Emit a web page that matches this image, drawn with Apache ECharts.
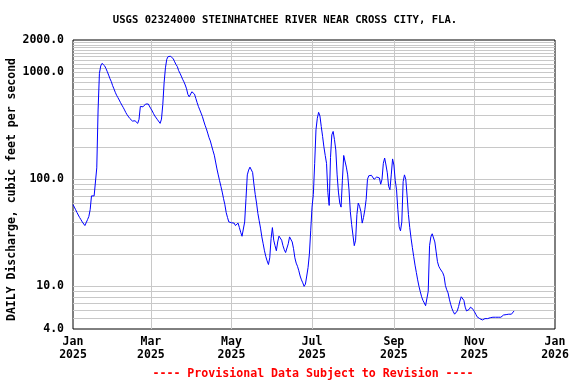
<!DOCTYPE html>
<html><head><meta charset="utf-8">
<script src="https://cdn.jsdelivr.net/npm/echarts@6/dist/echarts.min.js"></script>
<style>html,body{margin:0;padding:0;background:#fff}#c{width:576px;height:384px}</style>
</head><body><div id="c"></div>
<script>
const titleText = 'USGS 02324000 STEINHATCHEE RIVER NEAR CROSS CITY, FLA.';
const footerText = '---- Provisional Data Subject to Revision ----';
const yAxisName = 'DAILY Discharge, cubic feet per second';
const startDate = '2025-01-01';
// daily discharge, cfs, starting 2025-01-01
const flow = [
58,55,52,49,47,44,42,40,38.5,37,
35.5,42,45,52,70,70,70,69,128,444,
975,1145,1211,1180,1145,1080,1010,940,870,818,
750,700,650,610,580,550,520,493,470,445,
420,400,389,370,358,350,346,352,345,333,
363,480,488,475,490,505,513,505,485,455,
435,410,390,375,360,348,333,365,500,800,
1100,1320,1400,1420,1410,1370,1330,1250,1180,1130,
1035,980,920,860,813,760,700,620,590,610,
657,650,625,570,520,478,445,415,385,350,
320,296,270,245,228,205,185,168,145,125,
110,97,86,76,66,58,49,44,40,38.6,
39.3,41,39,37,38,39,35.4,32,29.4,29.4,
40,66,110,122,130,126,116,90,72,60,
48,41,35,29,25,21.5,19,17.3,16,18.5,
28,35.4,27,24,21.5,26,29.5,29,27,24,
22,20.7,20,25,29,30,26,22.5,18.5,16.5,
15.4,14,12.5,11.5,10.8,10,10.5,12.5,15,20,
33,55,72,140,290,371,422,390,311,252,
201,167,141,75,57,160,260,280,235,188,
110,76,60,55,98,167,160,130,110,80,
50,38,30,24,27,47,60,56,50,39,
44,52,65,100,108,110,109,107,100,104,
105,104,103,90,100,141,158,136,115,86,
80,110,155,136,98,80,52,36,33,40,
95,110,100,70,47,35.5,28.2,23,19,15.8,
13.5,11.5,10,8.9,8,7.4,7,6.6,6.4,9,
24,29,31,31,26,21,17,15.4,14.6,14,
13.4,12.4,10.2,9.3,8.7,7.6,6.8,6.2,5.8,5.5,
5.4,5.9,6.5,7.3,8,8.2,7.4,6.4,5.9,5.8,
6.1,6.4,6.4,6.1,5.8,5.5,5.2,5.1,5.0,4.9,
4.86,4.9,5.0,5.0,5.0,5.1,5.1,5.15,5.15,5.15,
5.15,5.2,5.15,5.15,5.15,5.2,5.4,5.4,5.45,5.45,
5.5,5.5,5.5,5.6,5.9
];
const xTickDates = ['2025-01-01','2025-03-01','2025-05-01','2025-07-01','2025-09-01','2025-11-01','2026-01-01'];
const xGridDates = ['2025-03-01','2025-05-01','2025-07-01','2025-09-01','2025-11-01'];
const yTickLabels = [4, 10, 100, 1000, 2000];
const yGridValues = [5,6,7,8,9,10,20,30,40,50,60,70,80,90,100,200,300,400,500,600,700,800,900,1000,1100,1200,1300,1400,1500,1600,1700,1800,1900];
const monthNames = ['Jan','Feb','Mar','Apr','May','Jun','Jul','Aug','Sep','Oct','Nov','Dec'];

const FONT = 'DejaVu Sans Mono';
function utc(s){ const p = s.split('-'); return Date.UTC(+p[0], +p[1]-1, +p[2]); }
const t0 = utc(startDate);
const DAY = 86400000;
const seriesData = flow.map((v, i) => [t0 + i * DAY, v]);

const chart = echarts.init(document.getElementById('c'), null, {renderer: 'canvas'});
chart.setOption({
  animation: false,
  backgroundColor: '#fff',
  title: [
    {text: titleText, left: 285, top: 15, padding: 0, textAlign: 'center',
     textStyle: {fontFamily: FONT, fontWeight: 'bold', fontSize: 10.6, color: '#000'}},
    {text: footerText, left: 313, top: 368, padding: 0, textAlign: 'center',
     textStyle: {fontFamily: FONT, fontWeight: 'bold', fontSize: 11.6, color: '#ff0000'}}
  ],
  grid: {left: 73, right: 21, top: 40, bottom: 55, show: true, borderColor: '#000', borderWidth: 1,
         backgroundColor: 'transparent', outerBoundsMode: 'none', containLabel: false},
  xAxis: {
    type: 'value', min: utc(xTickDates[0]), max: utc(xTickDates[xTickDates.length - 1]),
    axisLine: {show: false}, axisTick: {show: false}, splitLine: {show: false},
    axisLabel: {
      customValues: xTickDates.map(utc),
      formatter: v => { const d = new Date(v); return monthNames[d.getUTCMonth()] + '\n' + d.getUTCFullYear(); },
      fontFamily: FONT, fontWeight: 'bold', fontSize: 11.5, color: '#000', lineHeight: 13, margin: 7,
      showMinLabel: true, showMaxLabel: true, hideOverlap: false
    }
  },
  yAxis: {
    type: 'log', logBase: 10, min: 4, max: 2000,
    axisLine: {show: false}, axisTick: {show: false}, splitLine: {show: false}, minorSplitLine: {show: false},
    axisLabel: {
      formatter: v => (+v).toFixed(1),
      fontFamily: FONT, fontWeight: 'bold', fontSize: 11.5, color: '#000', margin: 9,
      showMinLabel: true, showMaxLabel: true
    },
    name: yAxisName, nameLocation: 'middle', nameGap: 55, nameMoveOverlap: false,
    nameTextStyle: {fontFamily: FONT, fontWeight: 'bold', fontSize: 11.5, color: '#000', padding: [0, 10, 0, 0]}
  },
  series: [
    {type: 'line', data: [], z: 1, silent: true,
     markLine: {silent: true, symbol: 'none', z: 1, animation: false,
       label: {show: false},
       lineStyle: {color: '#c8c8c8', width: 1, type: 'solid'},
       emphasis: {disabled: true},
       data: yGridValues.map(v => ({yAxis: v})).concat(xGridDates.map(d => ({xAxis: utc(d)})))
     }},
    {type: 'line', data: seriesData, showSymbol: false, symbol: 'none', z: 3,
     lineStyle: {color: '#0000ff', width: 1}}
  ]
});
</script></body></html>
